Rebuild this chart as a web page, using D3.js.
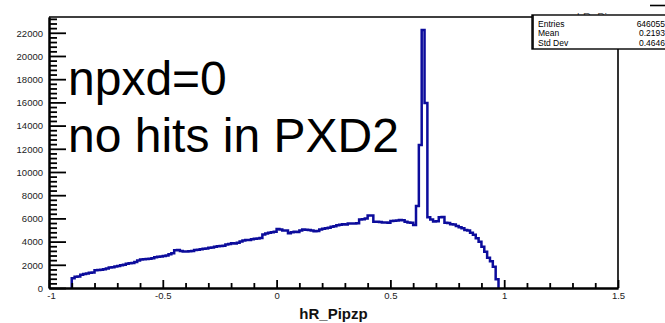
<!DOCTYPE html>
<html>
<head>
<meta charset="utf-8">
<script src="https://cdn.jsdelivr.net/npm/d3@7"></script>
<style>
  html, body { margin: 0; padding: 0; background: #fff; }
  svg { display: block; }
  text { font-family: "Liberation Sans", Arial, Helvetica, sans-serif; }
</style>
</head>
<body>
<svg id="chart" width="665" height="323"></svg>
<script>
// Histogram hR_Pipzp: 200 bins on [-1, 1.5]; filled bins start at -0.9
const binWidth = 0.0125;
const firstEdge = -0.9;
const counts = [
  850, 980, 1000, 1150, 1200, 1250, 1320, 1330,
  1520, 1560, 1580, 1620, 1690, 1760, 1790, 1850,
  1900, 1960, 2000, 2080, 2130, 2160, 2250, 2380,
  2460, 2480, 2500, 2530, 2560, 2660, 2700, 2720,
  2760, 2800, 2900, 3000, 3250, 3280, 3200, 3150,
  3140, 3160, 3180, 3280, 3300, 3330, 3390, 3400,
  3460, 3500, 3560, 3590, 3620, 3650, 3760, 3800,
  3850, 3830, 3900, 4000, 4100, 4140, 4130, 4200,
  4250, 4260, 4300, 4620, 4700, 4760, 4800, 4850,
  5080, 5050, 4960, 4950, 4720, 4800, 4850, 4830,
  4960, 5050, 5020, 4990, 4950, 4900, 4920, 5050,
  5100, 5150, 5200, 5280, 5320, 5400, 5450, 5500,
  5480, 5550, 5560, 5550, 5580, 5900, 5920, 6000,
  6260, 6250, 5720, 5700, 5680, 5650, 5640, 5620,
  5780, 5800, 5820, 5860, 5850, 5700, 5640, 5620,
  5420, 7070, 12330, 22250, 15950, 6100, 5900, 5730,
  5750, 6100, 6120, 5630, 5600, 5500, 5480, 5350,
  5230, 5150, 5000, 4960, 4770, 4600, 4280, 3990,
  3560, 3130, 2600, 2300, 1840, 750
];

const xDomain = [-1, 1.5];
const yDomain = [0, 23360];
const xMajorTicks = [-1, -0.5, 0, 0.5, 1, 1.5];
const xTickLabels = ["-1", "-0.5", "0", "0.5", "1", "1.5"];
const xMinorStep = 0.1;
const yMajorTicks = [0, 2000, 4000, 6000, 8000, 10000, 12000, 14000, 16000, 18000, 20000, 22000];
const yMinorStep = 400;

const statNames = ["Entries", "Mean", "Std Dev"];
const statValues = ["646055", "0.2193", "0.4646"];
const histName = "hR_Pipzp";
const noteLines = ["npxd=0", "no hits in PXD2"];

const svg = d3.select("#chart");
const frame = { left: 49, right: 618, top: 17, bottom: 288 };

const x = d3.scaleLinear().domain(xDomain).range([frame.left, frame.right]);
const y = d3.scaleLinear().domain(yDomain).range([frame.bottom, frame.top]);

// frame top and right edges
svg.append("path")
  .attr("d", `M${frame.left},${frame.top}H${frame.right}V${frame.bottom}`)
  .attr("fill", "none").attr("stroke", "#000").attr("stroke-width", 1.6);

// histogram outline as a step path
const bins = counts.map((c, i) => ({ x0: firstEdge + i * binWidth, x1: firstEdge + (i + 1) * binWidth, c }));
let d = `M${x(bins[0].x0)},${y(0)}`;
bins.forEach(b => { d += `V${y(b.c)}H${x(b.x1)}`; });
d += `V${y(0)}`;
svg.append("path")
  .attr("d", d)
  .attr("fill", "none")
  .attr("stroke", "#0c0c9c")
  .attr("stroke-width", 2.5)
  .attr("stroke-linejoin", "miter");

// minor ticks
const yMinor = d3.range(0, yDomain[1] + 1, yMinorStep).filter(v => v % 2000 !== 0);
const xMinor = d3.range(xDomain[0], xDomain[1] + 1e-9, xMinorStep).map(v => +v.toFixed(4))
  .filter(v => !xMajorTicks.some(m => Math.abs(m - v) < 1e-6));

const yAxisMinor = d3.axisLeft(y).tickValues(yMinor).tickSize(-8).tickSizeOuter(0).tickFormat("");
const yAxisMajor = d3.axisLeft(y).tickValues(yMajorTicks).tickSize(-17).tickSizeOuter(0).tickPadding(6)
  .tickFormat(d3.format("d"));
const xAxisMinor = d3.axisBottom(x).tickValues(xMinor).tickSize(-5).tickSizeOuter(0).tickFormat("");
const xAxisMajor = d3.axisBottom(x).tickValues(xMajorTicks).tickSize(-8).tickSizeOuter(0).tickPadding(4)
  .tickFormat((v, i) => xTickLabels[i]);

function styleAxis(g) {
  g.select(".domain").attr("stroke", "#000").attr("stroke-width", 2);
  g.selectAll(".tick line").attr("stroke", "#000").attr("stroke-width", 1.8);
  g.selectAll(".tick text").attr("fill", "#222").attr("font-size", 9.5)
    .attr("font-family", "'Liberation Sans', Arial, sans-serif");
}

svg.append("g").attr("transform", `translate(${frame.left},0)`).call(yAxisMinor).call(styleAxis);
svg.append("g").attr("transform", `translate(${frame.left},0)`).call(yAxisMajor).call(styleAxis)
  .selectAll(".tick text").attr("dy", "0.35em");
svg.append("g").attr("transform", `translate(0,${frame.bottom})`).call(xAxisMinor).call(styleAxis);
const xg = svg.append("g").attr("transform", `translate(0,${frame.bottom})`).call(xAxisMajor).call(styleAxis);
// first x label sits just right of the origin
xg.selectAll(".tick text").filter((v) => v === -1).attr("dx", 2);

// x axis title centred under the frame
svg.append("text")
  .attr("x", (frame.left + frame.right) / 2)
  .attr("y", 319)
  .attr("text-anchor", "middle")
  .attr("font-size", 15)
  .attr("font-weight", "bold")
  .attr("fill", "#111")
  .text(histName);

// large annotation
svg.selectAll("text.note").data(noteLines).enter().append("text")
  .attr("class", "note")
  .attr("x", 68)
  .attr("y", (t, i) => 95 + i * 57)
  .attr("font-size", 48)
  .attr("fill", "#000")
  .text(t => t);

// stats box title fragment, mostly covered by the box
svg.append("text")
  .attr("x", 577).attr("y", 21)
  .attr("font-size", 11).attr("fill", "#555")
  .text(histName);

// stats box
const box = { x: 532, y: 15, w: 140, h: 34 };
svg.append("rect")
  .attr("x", box.x).attr("y", box.y).attr("width", box.w).attr("height", box.h)
  .attr("fill", "#fff").attr("stroke", "#000").attr("stroke-width", 1.4);
svg.append("line")
  .attr("x1", box.x + 1).attr("x2", box.x + 1).attr("y1", box.y).attr("y2", box.y + box.h)
  .attr("stroke", "#000").attr("stroke-width", 1.6);

const rowY = i => 26.5 + i * 9.6;
const rows = svg.selectAll("g.stat").data(statNames).enter().append("g").attr("class", "stat");
rows.append("text")
  .attr("x", box.x + 6)
  .attr("y", (t, i) => rowY(i))
  .attr("font-size", 8.5).attr("fill", "#000")
  .text(t => t);
rows.append("text")
  .attr("x", 665)
  .attr("y", (t, i) => rowY(i))
  .attr("text-anchor", "end")
  .attr("font-size", 8.5).attr("fill", "#000")
  .text((t, i) => statValues[i]);

// title box edge at the top right
svg.append("line")
  .attr("x1", 650).attr("x2", 665).attr("y1", 5.5).attr("y2", 5.5)
  .attr("stroke", "#000").attr("stroke-width", 1.6);
</script>
</body>
</html>
